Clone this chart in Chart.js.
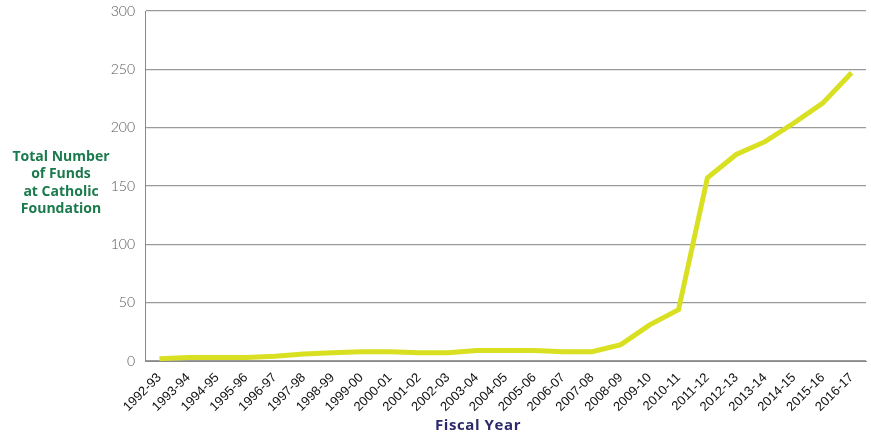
<!DOCTYPE html>
<html>
<head>
<meta charset="utf-8">
<script src="https://cdn.jsdelivr.net/npm/chart.js@4"></script>
<style>
  html, body { margin: 0; padding: 0; background: #fff; }
  #wrap { width: 871px; height: 438px; position: relative; }
</style>
</head>
<body>
<div id="wrap"><canvas id="chart"></canvas></div>
<script>
// ── Data ──────────────────────────────────────────────────────────
const years = [
  '1992-93', '1993-94', '1994-95', '1995-96', '1996-97', '1997-98', '1998-99',
  '1999-00', '2000-01', '2001-02', '2002-03', '2003-04', '2004-05', '2005-06',
  '2006-07', '2007-08', '2008-09', '2009-10', '2010-11', '2011-12', '2012-13',
  '2013-14', '2014-15', '2015-16', '2016-17'
];
const funds = [
  2, 3, 3, 3, 4, 6, 7, 8, 8, 7, 7, 9, 9, 9,
  8, 8, 14, 31, 44, 157, 177, 188, 204, 221, 247
];
const yTitleLines = ['Total Number', 'of Funds', 'at Catholic', 'Foundation'];
const xTitle = 'Fiscal Year';

// ── Titles plugin (horizontal y title, x title) ─────────────────
const titles = {
  id: 'titles',
  afterDraw(chart) {
    const { ctx } = chart;
    ctx.save();
    ctx.fillStyle = '#1b7a4c';
    ctx.font = 'bold 14px "Open Sans"';
    ctx.textAlign = 'center';
    ctx.textBaseline = 'middle';
    yTitleLines.forEach((t, i) => ctx.fillText(t, 61, 157 + i * 17.5));
    ctx.fillStyle = '#2c2a6a';
    ctx.font = 'bold 15px "Open Sans"';
    ctx.letterSpacing = '0.6px';
    ctx.fillText(xTitle, 478, 426);
    ctx.restore();
  }
};

new Chart(document.getElementById('chart'), {
  type: 'line',
  data: {
    labels: years,
    datasets: [{
      data: funds,
      borderColor: '#d9e021',
      borderWidth: 5,
      pointRadius: 0,
      tension: 0,
      fill: false,
    }],
  },
  options: {
    responsive: true,
    maintainAspectRatio: false,
    animation: false,
    devicePixelRatio: 1,
    layout: { padding: { top: 11, right: 5, left: 0, bottom: 0 } },
    plugins: { legend: { display: false }, tooltip: { enabled: false } },
    scales: {
      x: {
        offset: true,
        grid: { display: false, drawTicks: false },
        border: { color: '#8a8a8a', width: 1 },
        ticks: {
          color: '#111',
          font: { family: 'Liberation Sans', size: 13 },
          minRotation: 45,
          maxRotation: 45,
          autoSkip: false,
          padding: 9,
        },
        afterFit: s => { s.height = 77; s.paddingLeft = 0; s.paddingRight = 0; },
      },
      y: {
        min: 0,
        max: 300,
        grid: { color: '#9a9a9a', lineWidth: 1.2, drawTicks: false },
        border: { color: '#8a8a8a', width: 1 },
        ticks: {
          stepSize: 50,
          color: '#555',
          font: { family: 'Lato', size: 14, weight: 300 },
          padding: 10,
        },
        afterFit: s => { s.width = 145; s.paddingTop = 0; s.paddingBottom = 0; },
      },
    },
  },
  plugins: [titles],
});
</script>
</body>
</html>
